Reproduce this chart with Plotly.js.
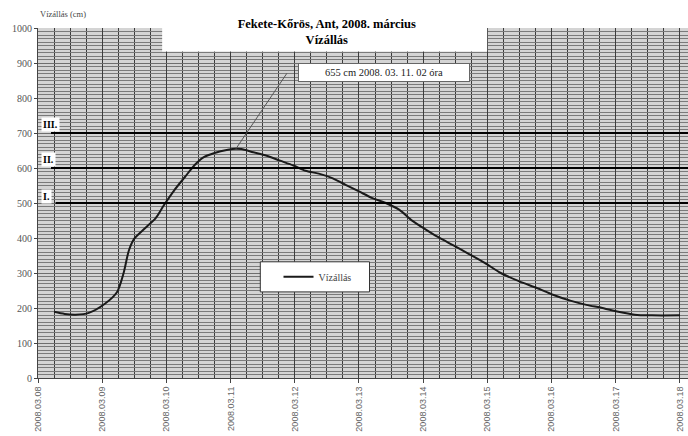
<!DOCTYPE html>
<html>
<head>
<meta charset="utf-8">
<script src="https://cdn.plot.ly/plotly-3.0.1.min.js"></script>
<style>html,body{margin:0;padding:0;background:#fff;}#chart{width:688px;height:436px;}</style>
</head>
<body>
<div id="chart"></div>
<script>
// Data
const times = [
  '2008-03-08 06:00','2008-03-08 10:00','2008-03-08 14:00','2008-03-08 19:00',
  '2008-03-09 01:00','2008-03-09 05:30','2008-03-09 08:00','2008-03-09 10:00',
  '2008-03-09 12:00','2008-03-09 16:00','2008-03-09 20:00','2008-03-09 23:00',
  '2008-03-10 03:00','2008-03-10 07:00','2008-03-10 10:30','2008-03-10 14:00',
  '2008-03-10 18:00','2008-03-10 23:00','2008-03-11 02:00','2008-03-11 04:00',
  '2008-03-11 08:30','2008-03-11 13:30','2008-03-11 18:30','2008-03-11 23:30',
  '2008-03-12 04:00','2008-03-12 09:00','2008-03-12 14:00','2008-03-12 19:00',
  '2008-03-13 00:00','2008-03-13 05:00','2008-03-13 10:00','2008-03-13 15:00',
  '2008-03-13 20:00','2008-03-14 01:00','2008-03-14 05:30','2008-03-14 11:30',
  '2008-03-14 16:30','2008-03-14 23:00','2008-03-15 05:00','2008-03-15 12:00',
  '2008-03-15 18:30','2008-03-16 00:30','2008-03-16 07:00','2008-03-16 13:00',
  '2008-03-16 19:00','2008-03-17 01:00','2008-03-17 07:00','2008-03-17 13:30',
  '2008-03-18 00:00'
];
const levels = [
  189,183,181,186,
  212,245,300,365,
  398,428,457,493,
  537,575,608,631,
  643,652,655,654,
  645,635,621,607,
  592,584,571,552,
  533,514,500,481,
  449,424,403,378,
  357,329,300,276,
  257,238,221,209,
  200,189,181,179,
  179
];
const seriesName = 'Vízállás';
const titleLines = ['Fekete-Kőrös, Ant, 2008. március', 'Vízállás'];
const yAxisLabel = 'Vízállás (cm)';
const thresholds = [500, 600, 700];
const thresholdLabels = ['I.', 'II.', 'III.'];
const peakTime = '2008-03-11 02:00';
const peakValue = 655;
const peakLabel = '655 cm 2008. 03. 11. 02 óra';
const xRange = ['2008-03-08 00:00', '2008-03-18 03:00'];
const yRange = [0, 1000];

const serif = 'Liberation Serif, Times New Roman, serif';
const sans = 'Liberation Sans, Arial, sans-serif';

const trace = {
  x: times, y: levels, type: 'scatter', mode: 'lines', name: seriesName,
  line: {color: '#1a1a1a', width: 2, shape: 'spline', smoothing: 0.8}
};

const shapes = [];
thresholds.forEach((v, i) => {
  shapes.push({type: 'line', xref: 'paper', yref: 'y', x0: i === 0 ? 0.027 : 0.02, x1: 1, y0: v, y1: v,
    line: {color: '#000', width: 2}, layer: 'above'});
});
// white title cut-out at top of plot
shapes.push({type: 'rect', xref: 'paper', yref: 'paper', x0: 0.191, x1: 0.691, y0: 0.933, y1: 1.01,
  fillcolor: '#fff', line: {width: 0}, layer: 'above'});
// legend box
shapes.push({type: 'rect', xref: 'paper', yref: 'paper', x0: 0.342, x1: 0.510, y0: 0.246, y1: 0.332,
  fillcolor: '#fff', line: {color: '#333', width: 1}, layer: 'above'});

const annotations = [];
thresholds.forEach((v, i) => {
  annotations.push({xref: 'paper', yref: 'y', x: 0.005, y: v + (i === 0 ? 19 : 24), xanchor: 'left',
    text: '<b>' + thresholdLabels[i] + '</b>', showarrow: false, bgcolor: '#fff', borderpad: 1,
    font: {family: serif, size: 10, color: '#000'}});
});
annotations.push({x: peakTime, y: peakValue, xref: 'x', yref: 'y', text: '', showarrow: true,
  arrowhead: 0, arrowwidth: 1, arrowcolor: '#555', ax: 52, ay: -77, standoff: 0});
annotations.push({xref: 'paper', yref: 'paper', x: 0.4, y: 0.872, xanchor: 'left', yanchor: 'middle',
  text: peakLabel, showarrow: false, bgcolor: '#fff', bordercolor: '#666', borderwidth: 1, borderpad: 3,
  width: 164, font: {family: serif, size: 10.5, color: '#222'}});
annotations.push({xref: 'paper', yref: 'paper', x: 0.0, y: 1.04, xanchor: 'left', yanchor: 'middle',
  text: yAxisLabel, showarrow: false, font: {family: serif, size: 8.5, color: '#444'}});

const layout = {
  width: 688, height: 436,
  margin: {l: 38, r: 0, t: 28, b: 58, pad: 0},
  paper_bgcolor: '#fff', plot_bgcolor: '#d4d4d4',
  title: {text: '<b>' + titleLines.join('<br>') + '</b>', font: {family: serif, size: 12.5, color: '#000'},
    x: 0.475, xanchor: 'center', y: 0.936, yanchor: 'middle', xref: 'container', yref: 'container'},
  showlegend: true,
  legend: {x: 0.37, y: 0.289, xanchor: 'left', yanchor: 'middle', bgcolor: 'rgba(0,0,0,0)', borderwidth: 0,
    font: {family: serif, size: 10, color: '#444'}},
  xaxis: {
    type: 'date', range: xRange, dtick: 86400000, tick0: '2008-03-08',
    tickformat: '%Y.%m.%d', tickangle: -90, tickfont: {family: sans, size: 9, color: '#666'},
    ticklabeloverflow: 'allow',
    ticks: 'outside', ticklen: 4, tickcolor: '#444',
    showgrid: true, gridcolor: '#3c3c3c', gridwidth: 1,
    minor: {dtick: 21600000, showgrid: true, gridcolor: '#3c3c3c', gridwidth: 1},
    showline: true, linecolor: '#444', linewidth: 1, mirror: false, zeroline: false
  },
  yaxis: {
    range: yRange, dtick: 100, tick0: 0,
    tickfont: {family: serif, size: 10, color: '#555'},
    ticks: 'outside', ticklen: 3, tickcolor: '#444',
    showgrid: true, gridcolor: '#6e6e6e', gridwidth: 1,
    minor: {dtick: 10, showgrid: true, gridcolor: '#7a7a7a', gridwidth: 1},
    showline: true, linecolor: '#444', linewidth: 1, zeroline: false
  },
  shapes: shapes,
  annotations: annotations
};

Plotly.newPlot('chart', [trace], layout, {displayModeBar: false, staticPlot: true});
</script>
</body>
</html>
